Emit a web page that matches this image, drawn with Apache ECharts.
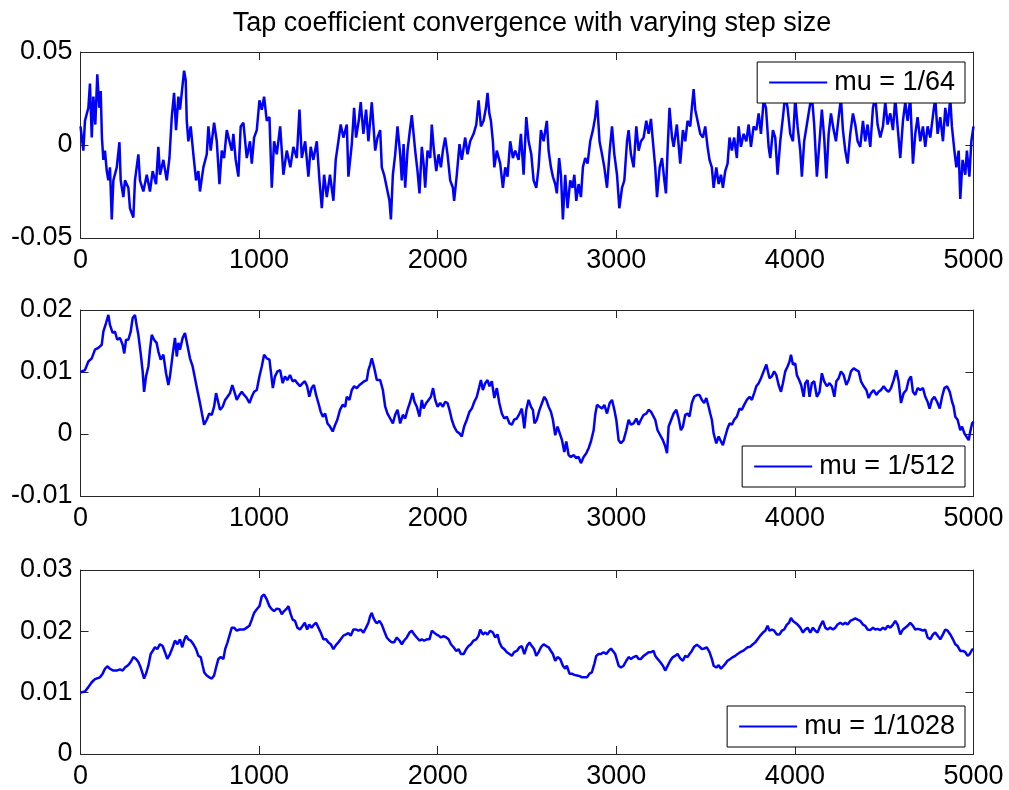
<!DOCTYPE html>
<html><head><meta charset="utf-8">
<script src="https://cdn.jsdelivr.net/npm/echarts@6/dist/echarts.min.js"></script>
<style>html,body{margin:0;padding:0;background:#fff}#chart{width:1009px;height:790px}</style>
</head><body><div id="chart"></div>
<script>
// Tap coefficient trajectories for three LMS step sizes, [iteration, value]
const stepLabels = ['mu = 1/64', 'mu = 1/512', 'mu = 1/1028'];

const mu64 = [[0,0.010],[16,-0.003],[25,0.013],[44,0.020],[53,0.033],[63,0.004],[72,0.026],[83,0.011],[94,0.038],[105,0.020],[113,0.029],[120,0.004],[128,-0.008],[137,-0.003],[147,-0.014],[156,-0.019],[165,-0.012],[175,-0.040],[184,-0.019],[203,-0.012],[218,0.0015],[225,-0.019],[240,-0.028],[249,-0.019],[268,-0.023],[277,-0.034],[296,-0.039],[305,-0.019],[324,-0.005],[333,-0.019],[352,-0.025],[371,-0.016],[389,-0.025],[404,-0.014],[423,-0.021],[436,-0.001],[445,-0.016],[464,-0.008],[483,-0.019],[498,-0.007],[511,0.015],[524,0.028],[535,0.008],[548,0.026],[557,0.019],[567,0.028],[580,0.040],[589,0.035],[595,0.013],[604,0.002],[617,0.010],[632,-0.005],[647,-0.019],[660,-0.014],[669,-0.025],[688,-0.012],[707,-0.005],[716,0.010],[729,-0.003],[748,0.012],[763,0.002],[778,-0.021],[791,-0.003],[804,-0.007],[819,0.008],[834,0.002],[847,-0.003],[856,0.006],[869,-0.008],[884,-0.017],[897,0.010],[912,0.012],[931,-0.007],[949,0.002],[959,-0.010],[972,0.004],[987,0.008],[1002,0.024],[1015,0.019],[1028,0.026],[1043,0.013],[1058,0.015],[1071,-0.023],[1084,0.002],[1099,-0.005],[1118,0.010],[1136,-0.016],[1155,-0.003],[1175,-0.012],[1192,-0.001],[1211,-0.007],[1226,0.019],[1239,-0.007],[1258,0.002],[1276,-0.017],[1289,-0.001],[1304,-0.008],[1323,0.002],[1338,-0.019],[1351,-0.034],[1364,-0.016],[1379,-0.028],[1397,-0.016],[1416,-0.030],[1429,-0.008],[1444,0.002],[1457,0.011],[1472,0.004],[1491,0.011],[1500,-0.017],[1519,0.0005],[1532,0.020],[1543,0.004],[1558,0.013],[1569,0.023],[1584,0.006],[1599,0.019],[1612,0.002],[1631,0.023],[1650,-0.003],[1663,0.004],[1678,0.008],[1687,-0.012],[1700,-0.016],[1715,-0.023],[1730,-0.030],[1738,-0.040],[1749,-0.016],[1762,-0.005],[1775,0.010],[1790,-0.005],[1799,-0.019],[1809,0.0005],[1818,-0.023],[1831,-0.003],[1842,0.006],[1855,0.016],[1865,0.006],[1874,-0.003],[1887,-0.014],[1898,-0.026],[1911,-0.001],[1921,-0.010],[1930,-0.023],[1943,-0.003],[1958,-0.007],[1967,0.011],[1977,-0.001],[1992,-0.014],[2005,-0.005],[2018,-0.012],[2029,-0.003],[2042,0.004],[2055,-0.005],[2070,-0.019],[2085,-0.023],[2092,-0.030],[2107,-0.016],[2122,0.0005],[2135,-0.008],[2154,0.004],[2167,-0.005],[2182,0.002],[2201,0.006],[2216,0.011],[2229,0.024],[2242,0.010],[2257,0.013],[2270,0.020],[2279,0.028],[2289,0.017],[2298,0.013],[2309,0.002],[2317,-0.012],[2331,-0.003],[2350,-0.010],[2365,-0.023],[2378,-0.012],[2391,-0.017],[2406,0.002],[2421,-0.007],[2434,-0.003],[2453,-0.008],[2466,0.006],[2481,-0.016],[2496,0.015],[2509,0.002],[2524,-0.005],[2537,-0.019],[2552,-0.023],[2565,-0.012],[2578,0.008],[2593,0.002],[2611,0.013],[2621,-0.003],[2634,-0.012],[2645,-0.017],[2658,-0.021],[2667,-0.026],[2680,-0.007],[2690,-0.016],[2701,-0.040],[2714,-0.016],[2727,-0.034],[2742,-0.019],[2755,-0.023],[2765,-0.016],[2776,-0.030],[2789,-0.021],[2802,-0.028],[2813,-0.012],[2826,-0.007],[2839,-0.010],[2854,0.002],[2869,0.008],[2882,0.015],[2892,0.024],[2906,0.002],[2920,-0.005],[2933,-0.012],[2948,-0.023],[2963,-0.003],[2976,0.010],[2989,-0.005],[3004,-0.016],[3017,-0.034],[3032,-0.023],[3045,-0.019],[3060,0.002],[3069,0.008],[3082,-0.005],[3097,-0.012],[3112,0.010],[3125,-0.003],[3138,0.002],[3153,0.004],[3168,0.013],[3181,0.006],[3194,0.014],[3205,0.002],[3218,-0.012],[3228,-0.028],[3243,-0.012],[3256,-0.007],[3269,-0.019],[3278,-0.026],[3287,-0.003],[3298,0.020],[3312,0.004],[3321,-0.001],[3339,0.011],[3358,-0.010],[3373,0.008],[3386,0.002],[3399,0.013],[3414,0.010],[3423,0.020],[3433,0.030],[3442,0.019],[3455,0.013],[3470,0.006],[3485,0.004],[3498,0.010],[3511,-0.001],[3522,-0.008],[3535,-0.012],[3545,-0.023],[3560,-0.012],[3573,-0.021],[3586,-0.016],[3597,-0.023],[3610,-0.014],[3623,-0.010],[3634,0.004],[3647,-0.003],[3660,0.004],[3675,-0.007],[3685,0.010],[3698,-0.001],[3713,0.006],[3728,0.002],[3741,0.011],[3754,-0.001],[3769,0.010],[3784,0.008],[3797,0.017],[3810,0.006],[3825,0.024],[3838,0.020],[3853,-0.001],[3862,-0.007],[3877,0.008],[3890,0.004],[3903,-0.016],[3918,0.002],[3933,0.015],[3946,0.027],[3959,0.020],[3974,0.006],[3989,0.002],[4002,0.025],[4015,0.010],[4030,-0.003],[4039,-0.017],[4052,0.002],[4067,0.011],[4082,0.020],[4095,0.027],[4108,0.011],[4123,-0.017],[4138,0.002],[4151,0.019],[4164,0.004],[4176,-0.018],[4189,0.006],[4202,0.017],[4217,0.008],[4230,0.002],[4245,0.015],[4258,0.025],[4269,0.008],[4282,-0.003],[4295,-0.010],[4310,0.006],[4325,0.017],[4338,0.011],[4351,0.002],[4366,-0.001],[4381,0.013],[4394,0.002],[4407,0.011],[4422,-0.001],[4437,0.020],[4450,0.026],[4463,0.011],[4478,0.004],[4493,0.010],[4506,0.023],[4519,0.011],[4534,0.017],[4549,0.008],[4562,0.025],[4575,0.010],[4590,-0.007],[4605,0.013],[4618,0.023],[4631,0.013],[4646,0.025],[4661,-0.010],[4674,0.006],[4687,0.015],[4702,0.002],[4717,0.010],[4730,-0.001],[4743,0.010],[4758,0.004],[4777,0.019],[4786,0.025],[4799,0.006],[4814,0.015],[4829,0.002],[4842,0.020],[4855,0.010],[4870,0.025],[4879,0.010],[4893,-0.003],[4904,-0.012],[4917,-0.003],[4926,-0.029],[4939,-0.008],[4954,-0.016],[4963,-0.003],[4977,-0.017],[4988,0.002],[5000,0.010]];

const mu512 = [[0,0.0100],[25,0.0103],[44,0.0117],[63,0.0122],[81,0.0136],[100,0.0139],[119,0.0144],[128,0.0165],[143,0.0179],[156,0.0192],[165,0.0176],[180,0.0163],[193,0.0165],[206,0.0152],[221,0.0155],[236,0.0144],[245,0.0130],[255,0.0152],[268,0.0152],[281,0.0165],[292,0.0187],[305,0.0192],[315,0.0174],[324,0.0160],[337,0.0130],[348,0.0101],[356,0.0068],[367,0.0093],[380,0.0109],[389,0.0136],[399,0.0160],[412,0.0152],[426,0.0147],[436,0.0133],[449,0.0120],[464,0.0128],[479,0.0098],[492,0.0079],[501,0.0093],[516,0.0128],[529,0.0155],[539,0.0125],[548,0.0147],[557,0.0136],[572,0.0155],[585,0.0163],[598,0.0144],[613,0.0122],[628,0.0109],[641,0.0090],[654,0.0071],[669,0.0050],[680,0.0033],[692,0.0015],[707,0.0023],[721,0.0033],[735,0.0031],[748,0.0044],[759,0.0066],[768,0.0055],[781,0.0039],[796,0.0044],[810,0.0055],[823,0.0060],[837,0.0066],[850,0.0079],[862,0.0068],[875,0.0055],[890,0.0063],[903,0.0068],[916,0.0063],[931,0.0058],[946,0.0050],[959,0.0060],[972,0.0068],[987,0.0071],[1002,0.0093],[1015,0.0109],[1028,0.0128],[1043,0.0122],[1058,0.0120],[1067,0.0098],[1077,0.0074],[1089,0.0093],[1103,0.0101],[1118,0.0103],[1132,0.0082],[1145,0.0093],[1158,0.0087],[1173,0.0095],[1188,0.0085],[1201,0.0087],[1214,0.0082],[1229,0.0077],[1244,0.0082],[1256,0.0085],[1269,0.0077],[1281,0.0060],[1294,0.0074],[1307,0.0079],[1319,0.0063],[1332,0.0050],[1345,0.0036],[1357,0.0028],[1370,0.0033],[1383,0.0017],[1397,0.0012],[1412,0.0004],[1426,0.0015],[1438,0.0023],[1453,0.0039],[1468,0.0047],[1482,0.0044],[1491,0.0060],[1506,0.0055],[1519,0.0071],[1532,0.0077],[1547,0.0074],[1562,0.0079],[1575,0.0082],[1588,0.0085],[1603,0.0087],[1612,0.0103],[1622,0.0112],[1631,0.0122],[1640,0.0112],[1649,0.0101],[1659,0.0087],[1678,0.0087],[1693,0.0071],[1706,0.0044],[1719,0.0033],[1734,0.0025],[1749,0.0017],[1762,0.0031],[1775,0.0039],[1790,0.0017],[1805,0.0031],[1818,0.0025],[1831,0.0039],[1846,0.0052],[1859,0.0066],[1870,0.0052],[1883,0.0044],[1898,0.0028],[1911,0.0055],[1921,0.0041],[1936,0.0050],[1949,0.0055],[1962,0.0060],[1974,0.0074],[1986,0.0055],[1999,0.0044],[2014,0.0050],[2029,0.0044],[2042,0.0052],[2055,0.0050],[2066,0.0039],[2079,0.0023],[2092,0.0012],[2107,0.0004],[2122,0.0001],[2135,-0.0004],[2148,0.0012],[2163,0.0023],[2178,0.0036],[2191,0.0041],[2205,0.0052],[2219,0.0060],[2231,0.0074],[2242,0.0087],[2253,0.0071],[2266,0.0082],[2279,0.0087],[2290,0.0077],[2303,0.0085],[2317,0.0058],[2331,0.0074],[2345,0.0050],[2359,0.0033],[2373,0.0025],[2387,0.0028],[2402,0.0017],[2415,0.0015],[2428,0.0023],[2443,0.0025],[2458,0.0033],[2471,0.0041],[2485,0.0009],[2496,0.0039],[2509,0.0055],[2522,0.0044],[2533,0.0039],[2542,0.0017],[2555,0.0023],[2570,0.0039],[2584,0.0050],[2597,0.0060],[2608,0.0055],[2621,0.0044],[2634,0.0036],[2645,0.0023],[2658,-0.0002],[2671,0.0012],[2682,0.0015],[2696,-0.0010],[2709,-0.0029],[2720,-0.0012],[2733,-0.0034],[2746,-0.0037],[2761,-0.0034],[2776,-0.0039],[2789,-0.0037],[2802,-0.0047],[2817,-0.0037],[2832,-0.0031],[2845,-0.0023],[2858,-0.0012],[2873,0.0006],[2882,0.0031],[2892,0.0047],[2906,0.0044],[2920,0.0041],[2933,0.0047],[2948,0.0033],[2963,0.0050],[2976,0.0055],[2989,0.0039],[3000,0.0023],[3013,-0.0010],[3026,-0.0015],[3041,-0.0010],[3056,0.0006],[3069,0.0023],[3082,0.0015],[3097,0.0017],[3112,0.0025],[3125,0.0015],[3138,0.0023],[3153,0.0031],[3168,0.0033],[3181,0.0039],[3194,0.0036],[3205,0.0039],[3218,0.0023],[3231,0.0006],[3246,-0.0002],[3261,-0.0010],[3274,-0.0020],[3284,-0.0031],[3293,0.0012],[3302,0.0015],[3321,0.0033],[3336,0.0039],[3349,0.0025],[3362,0.0006],[3373,0.0012],[3386,0.0031],[3399,0.0033],[3410,0.0028],[3423,0.0050],[3436,0.0060],[3451,0.0063],[3466,0.0063],[3479,0.0055],[3492,0.0050],[3504,0.0058],[3517,0.0044],[3526,0.0033],[3535,0.0023],[3545,0.0001],[3560,-0.0015],[3573,-0.0004],[3586,-0.0012],[3597,-0.0018],[3610,-0.0004],[3623,0.0009],[3634,0.0017],[3647,0.0015],[3660,0.0023],[3675,0.0028],[3690,0.0041],[3703,0.0039],[3716,0.0047],[3731,0.0055],[3746,0.0060],[3759,0.0055],[3772,0.0066],[3784,0.0077],[3797,0.0082],[3810,0.0090],[3825,0.0101],[3840,0.0112],[3847,0.0114],[3858,0.0090],[3871,0.0093],[3884,0.0101],[3896,0.0095],[3909,0.0079],[3922,0.0068],[3933,0.0082],[3946,0.0101],[3959,0.0109],[3970,0.0117],[3978,0.0128],[3989,0.0112],[4002,0.0114],[4011,0.0095],[4024,0.0087],[4035,0.0079],[4049,0.0060],[4058,0.0082],[4071,0.0087],[4082,0.0060],[4095,0.0082],[4108,0.0085],[4123,0.0060],[4138,0.0068],[4151,0.0098],[4164,0.0085],[4179,0.0077],[4194,0.0082],[4207,0.0077],[4221,0.0060],[4232,0.0085],[4245,0.0090],[4258,0.0101],[4273,0.0095],[4288,0.0079],[4301,0.0087],[4314,0.0101],[4329,0.0106],[4344,0.0103],[4357,0.0101],[4370,0.0085],[4385,0.0077],[4400,0.0071],[4413,0.0058],[4426,0.0066],[4441,0.0071],[4456,0.0063],[4469,0.0068],[4482,0.0071],[4497,0.0077],[4512,0.0071],[4525,0.0068],[4538,0.0074],[4553,0.0087],[4568,0.0103],[4581,0.0085],[4594,0.0050],[4609,0.0066],[4624,0.0071],[4637,0.0087],[4650,0.0093],[4661,0.0068],[4674,0.0063],[4687,0.0074],[4702,0.0071],[4717,0.0074],[4730,0.0060],[4743,0.0052],[4754,0.0041],[4767,0.0055],[4781,0.0060],[4796,0.0052],[4811,0.0041],[4824,0.0060],[4837,0.0074],[4852,0.0077],[4867,0.0068],[4880,0.0052],[4889,0.0044],[4898,0.0028],[4911,0.0023],[4926,0.0006],[4936,0.0012],[4949,0.0001],[4960,0.0004],[4973,-0.0010],[4982,0.0004],[4992,0.0017],[5000,0.0020]];

const mu1028 = [[0,0.0100],[25,0.0102],[44,0.0109],[63,0.0117],[81,0.0122],[109,0.0125],[124,0.0131],[137,0.0139],[150,0.0143],[165,0.0139],[184,0.0136],[203,0.0136],[221,0.0138],[236,0.0136],[249,0.0141],[268,0.0145],[281,0.0150],[296,0.0158],[311,0.0155],[324,0.0150],[337,0.0141],[348,0.0131],[356,0.0123],[367,0.0131],[380,0.0144],[393,0.0163],[404,0.0168],[417,0.0174],[430,0.0171],[445,0.0179],[460,0.0176],[473,0.0166],[486,0.0155],[501,0.0163],[516,0.0174],[529,0.0185],[543,0.0179],[557,0.0187],[570,0.0174],[580,0.0185],[591,0.0193],[604,0.0187],[617,0.0185],[632,0.0179],[647,0.0171],[660,0.0160],[673,0.0158],[684,0.0144],[693,0.0133],[707,0.0128],[721,0.0125],[735,0.0123],[748,0.0128],[759,0.0141],[772,0.0155],[785,0.0158],[800,0.0155],[810,0.0171],[823,0.0182],[834,0.0193],[847,0.0206],[860,0.0206],[875,0.0201],[890,0.0203],[903,0.0203],[916,0.0203],[931,0.0206],[946,0.0209],[959,0.0219],[972,0.0230],[987,0.0236],[1002,0.0241],[1015,0.0257],[1028,0.0260],[1043,0.0252],[1058,0.0241],[1071,0.0236],[1084,0.0233],[1099,0.0237],[1114,0.0236],[1127,0.0228],[1140,0.0233],[1155,0.0237],[1164,0.0241],[1177,0.0228],[1188,0.0219],[1201,0.0217],[1214,0.0206],[1229,0.0203],[1244,0.0209],[1256,0.0214],[1269,0.0203],[1281,0.0211],[1294,0.0206],[1307,0.0211],[1319,0.0214],[1332,0.0206],[1345,0.0198],[1360,0.0187],[1375,0.0187],[1388,0.0182],[1401,0.0179],[1416,0.0171],[1431,0.0178],[1444,0.0182],[1457,0.0187],[1472,0.0193],[1487,0.0195],[1500,0.0197],[1513,0.0193],[1528,0.0203],[1543,0.0203],[1556,0.0201],[1569,0.0203],[1584,0.0198],[1599,0.0206],[1612,0.0214],[1622,0.0225],[1631,0.0230],[1640,0.0222],[1649,0.0217],[1659,0.0213],[1674,0.0217],[1687,0.0211],[1700,0.0201],[1715,0.0190],[1730,0.0185],[1743,0.0182],[1756,0.0182],[1771,0.0190],[1786,0.0185],[1799,0.0179],[1812,0.0185],[1827,0.0190],[1842,0.0198],[1855,0.0201],[1868,0.0195],[1883,0.0190],[1898,0.0185],[1911,0.0187],[1924,0.0185],[1939,0.0187],[1954,0.0187],[1967,0.0201],[1977,0.0203],[1992,0.0195],[2005,0.0193],[2018,0.0190],[2033,0.0192],[2048,0.0190],[2061,0.0187],[2074,0.0179],[2089,0.0174],[2104,0.0168],[2117,0.0171],[2130,0.0163],[2145,0.0163],[2160,0.0171],[2173,0.0176],[2186,0.0179],[2201,0.0185],[2216,0.0187],[2229,0.0193],[2238,0.0203],[2253,0.0195],[2266,0.0198],[2279,0.0195],[2294,0.0201],[2309,0.0198],[2322,0.0190],[2335,0.0195],[2346,0.0182],[2359,0.0174],[2373,0.0171],[2387,0.0166],[2402,0.0163],[2415,0.0160],[2428,0.0166],[2443,0.0168],[2458,0.0174],[2471,0.0176],[2485,0.0163],[2500,0.0176],[2514,0.0182],[2527,0.0176],[2540,0.0171],[2552,0.0160],[2565,0.0166],[2578,0.0174],[2593,0.0179],[2608,0.0176],[2621,0.0174],[2634,0.0168],[2645,0.0163],[2658,0.0152],[2671,0.0158],[2686,0.0155],[2701,0.0144],[2714,0.0139],[2723,0.0144],[2738,0.0131],[2751,0.0131],[2765,0.0129],[2780,0.0128],[2795,0.0127],[2808,0.0125],[2821,0.0125],[2836,0.0125],[2850,0.0131],[2863,0.0133],[2877,0.0147],[2888,0.0160],[2901,0.0163],[2914,0.0163],[2929,0.0166],[2944,0.0163],[2957,0.0168],[2970,0.0172],[2981,0.0171],[2994,0.0163],[3004,0.0160],[3013,0.0144],[3026,0.0141],[3041,0.0144],[3056,0.0152],[3069,0.0158],[3082,0.0155],[3097,0.0158],[3112,0.0160],[3125,0.0155],[3138,0.0155],[3153,0.0160],[3168,0.0163],[3181,0.0166],[3194,0.0166],[3209,0.0168],[3218,0.0160],[3231,0.0155],[3246,0.0150],[3261,0.0144],[3274,0.0136],[3284,0.0133],[3293,0.0147],[3302,0.0152],[3317,0.0158],[3330,0.0160],[3343,0.0163],[3358,0.0156],[3373,0.0152],[3386,0.0160],[3399,0.0158],[3410,0.0163],[3423,0.0168],[3436,0.0175],[3451,0.0178],[3466,0.0175],[3479,0.0171],[3492,0.0172],[3507,0.0174],[3522,0.0166],[3535,0.0155],[3545,0.0144],[3560,0.0141],[3573,0.0145],[3586,0.0139],[3597,0.0141],[3610,0.0147],[3623,0.0152],[3638,0.0155],[3653,0.0158],[3666,0.0160],[3679,0.0163],[3694,0.0166],[3709,0.0168],[3722,0.0171],[3735,0.0174],[3750,0.0175],[3765,0.0179],[3778,0.0182],[3791,0.0187],[3806,0.0193],[3821,0.0198],[3834,0.0201],[3847,0.0209],[3858,0.0201],[3871,0.0203],[3884,0.0201],[3899,0.0195],[3914,0.0195],[3927,0.0201],[3940,0.0203],[3955,0.0211],[3967,0.0214],[3978,0.0222],[3989,0.0217],[4002,0.0214],[4015,0.0211],[4030,0.0206],[4045,0.0198],[4058,0.0203],[4071,0.0206],[4086,0.0198],[4101,0.0206],[4114,0.0201],[4127,0.0198],[4142,0.0209],[4157,0.0217],[4170,0.0206],[4183,0.0203],[4198,0.0206],[4213,0.0203],[4226,0.0206],[4239,0.0211],[4254,0.0214],[4269,0.0211],[4282,0.0214],[4295,0.0211],[4310,0.0217],[4325,0.0219],[4338,0.0221],[4351,0.0219],[4366,0.0217],[4381,0.0211],[4394,0.0209],[4407,0.0203],[4422,0.0202],[4437,0.0206],[4450,0.0203],[4463,0.0204],[4478,0.0202],[4493,0.0206],[4506,0.0203],[4519,0.0209],[4534,0.0206],[4549,0.0211],[4562,0.0217],[4575,0.0211],[4590,0.0195],[4605,0.0203],[4618,0.0206],[4631,0.0209],[4646,0.0214],[4661,0.0209],[4674,0.0203],[4687,0.0204],[4702,0.0203],[4717,0.0201],[4730,0.0203],[4743,0.0190],[4758,0.0187],[4773,0.0195],[4786,0.0198],[4799,0.0193],[4814,0.0187],[4829,0.0195],[4842,0.0203],[4855,0.0201],[4870,0.0195],[4885,0.0187],[4898,0.0179],[4911,0.0176],[4926,0.0168],[4941,0.0168],[4954,0.0166],[4967,0.0160],[4979,0.0163],[4992,0.0170],[5000,0.0171]];

// y-axis ranges per panel: [min, max, tick interval]
const yRanges = [[-0.05, 0.05, 0.05], [-0.01, 0.02, 0.01], [0, 0.03, 0.01]];
const xRange = [0, 5000, 1000];
const titleText = 'Tap coefficient convergence with varying step size';

const seriesData = [mu64, mu512, mu1028];

const FONT = '"Liberation Sans", Arial, Helvetica, sans-serif';
const AXIS_COLOR = '#262626';
const panelTops = [52, 310, 570];
const legendTops = [62, 446, 706];

const chart = echarts.init(document.getElementById('chart'), null, { renderer: 'canvas' });

const grid = [], xAxis = [], yAxis = [], series = [], legend = [];

// plain numbers without thousands separators
const plain = v => String(Math.round(v * 1e6) / 1e6);

panelTops.forEach((top, i) => {
  grid.push({ left: 80.5, top: top, width: 893, height: 186, show: false });
  const tick = { show: true, inside: true, length: 8, lineStyle: { color: AXIS_COLOR, width: 1 } };
  const line = { show: true, onZero: false, lineStyle: { color: AXIS_COLOR, width: 1 } };
  // bottom axis with labels, top axis as a frame with inward ticks
  xAxis.push({
    type: 'value', gridIndex: i, position: 'bottom',
    min: xRange[0], max: xRange[1], interval: xRange[2],
    axisLine: line, axisTick: tick, splitLine: { show: false },
    axisLabel: { show: true, color: '#000', fontSize: 27, fontFamily: FONT, margin: 9, formatter: plain }
  });
  xAxis.push({
    type: 'value', gridIndex: i, position: 'top',
    min: xRange[0], max: xRange[1], interval: xRange[2],
    axisLine: line, axisTick: tick, splitLine: { show: false }, axisLabel: { show: false }
  });
  const [ymin, ymax, yint] = yRanges[i];
  yAxis.push({
    type: 'value', gridIndex: i, position: 'left',
    min: ymin, max: ymax, interval: yint,
    axisLine: line, axisTick: tick, splitLine: { show: false },
    axisLabel: { show: true, color: '#000', fontSize: 27, fontFamily: FONT, margin: 8, formatter: plain }
  });
  yAxis.push({
    type: 'value', gridIndex: i, position: 'right',
    min: ymin, max: ymax, interval: yint,
    axisLine: line, axisTick: tick, splitLine: { show: false }, axisLabel: { show: false }
  });
  series.push({
    name: stepLabels[i], type: 'line',
    xAxisIndex: i * 2, yAxisIndex: i * 2,
    data: seriesData[i],
    showSymbol: false, symbol: 'none', clip: true,
    lineStyle: { color: '#0000ff', width: 2.5 },
    itemStyle: { color: '#0000ff' },
    z: 2
  });
  legend.push({
    data: [stepLabels[i]], right: 44, top: legendTops[i],
    orient: 'horizontal', selectedMode: false,
    backgroundColor: '#ffffff', borderColor: '#000000', borderWidth: 1,
    padding: [5, 10, 5, 12],
    icon: 'rect', itemWidth: 58, itemHeight: 2,
    textStyle: { fontSize: 27, fontFamily: FONT, color: '#000', lineHeight: 31, padding: [0, 0, 0, 2] },
    z: 10
  });
});

chart.setOption({
  animation: false,
  backgroundColor: '#ffffff',
  title: {
    text: titleText, left: 527, top: 5, textAlign: 'center',
    textStyle: { fontSize: 27, fontWeight: 'normal', fontFamily: FONT, color: '#000' }
  },
  grid, xAxis, yAxis, series, legend
});
</script>
</body></html>
